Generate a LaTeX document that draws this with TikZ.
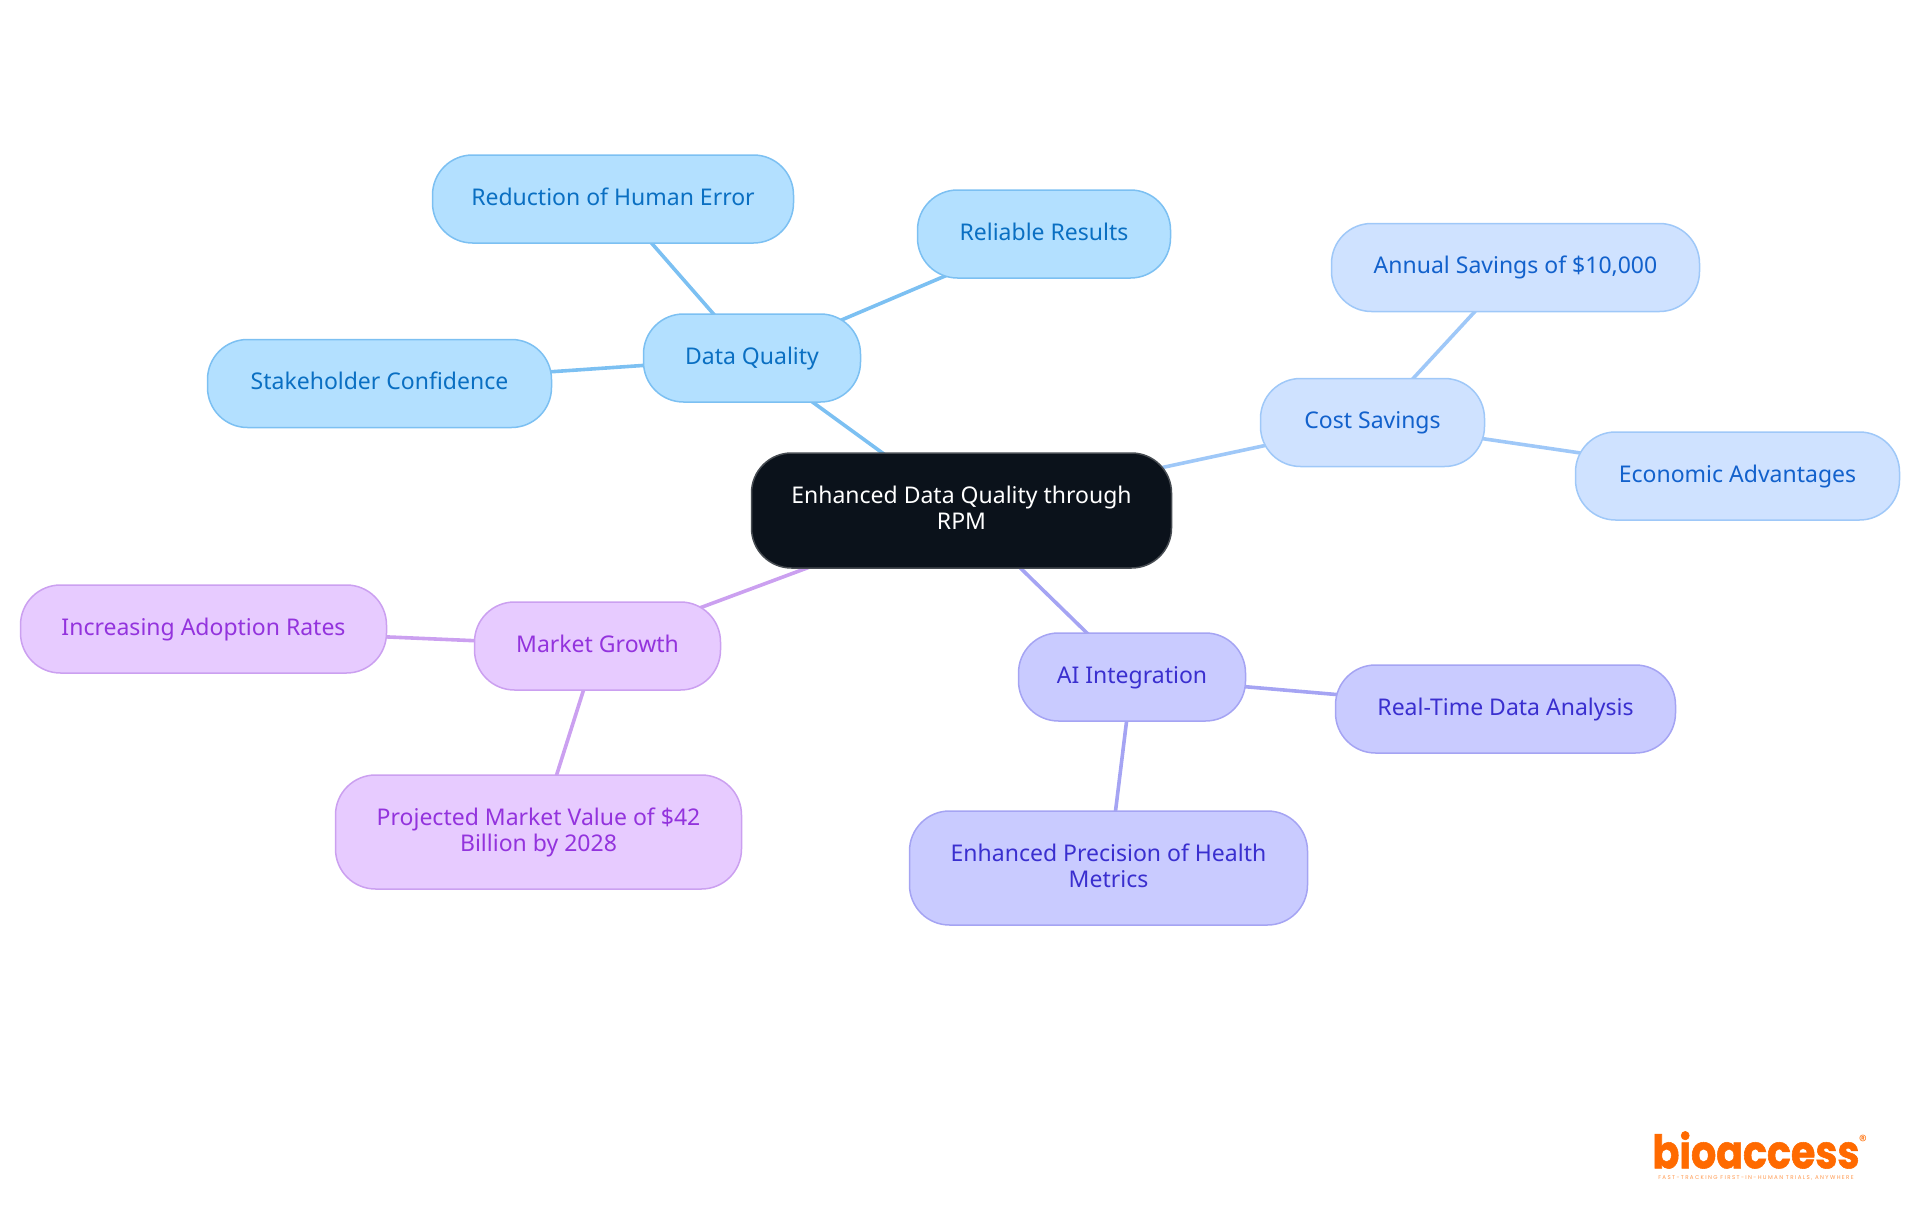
\documentclass[tikz,border=0pt]{standalone}
\usepackage{fontspec}
\setmainfont{Noto Sans}
\newfontfamily\logofont{Poppins}[BoldFeatures={FakeStretch=0.86,FakeBold=1.2}]
\usepackage{xcolor}
\usepackage{tikz}
\usetikzlibrary{positioning}
\usetikzlibrary{backgrounds}
\definecolor{rootfill}{HTML}{0B121B}
\definecolor{rootline}{HTML}{474C52}
\definecolor{qualityfill}{HTML}{B3E0FF}
\definecolor{qualityline}{HTML}{7CC0F2}
\definecolor{qualitytext}{HTML}{0A6FC2}
\definecolor{costfill}{HTML}{CFE2FF}
\definecolor{costline}{HTML}{9FC8F8}
\definecolor{costtext}{HTML}{1261CC}
\definecolor{aifill}{HTML}{C9CBFF}
\definecolor{ailine}{HTML}{A5A4F3}
\definecolor{aitext}{HTML}{3A2FCF}
\definecolor{marketfill}{HTML}{E7CBFF}
\definecolor{marketline}{HTML}{CBA0F0}
\definecolor{markettext}{HTML}{9333DD}
\definecolor{logoorange}{HTML}{FF6A00}
\tikzset{
	idea/.style={
		rectangle, rounded corners=40pt, line width=1.5pt, inner sep=0pt, align=center,
		font=\fontsize{23}{26}\selectfont, text height=18pt, text depth=6pt
	},
	box size/.style 2 args={minimum width=#1, minimum height=#2},
	two lines/.style={text height=44pt, text depth=6pt},
	root idea/.style={idea, fill=rootfill, draw=rootline, text=white},
	quality idea/.style={idea, fill=qualityfill, draw=qualityline, text=qualitytext},
	cost idea/.style={idea, fill=costfill, draw=costline, text=costtext},
	ai idea/.style={idea, fill=aifill, draw=ailine, text=aitext},
	market idea/.style={idea, fill=marketfill, draw=marketline, text=markettext},
	link/.style={line width=3.6pt}
}

\begin{document}
\begin{tikzpicture}
\useasboundingbox (0pt,0pt) rectangle (1920pt,-1215pt);

\node [root idea, two lines, box size={420pt}{115pt}] (root) at (961.5pt,-510.5pt) {Enhanced Data Quality through\\RPM};

\node [quality idea, box size={217pt}{88pt}, above left=49.5pt and -110.5pt of root] (quality) {Data Quality};
\node [quality idea, box size={361pt}{88pt}, above left=69.5pt and -151.5pt of quality] (error) {Reduction of Human Error};
\node [quality idea, box size={253pt}{88pt}, above right=34.5pt and 55.5pt of quality] (reliable) {Reliable Results};
\node [quality idea, box size={344pt}{88pt}, left=90.5pt of quality, yshift=-25.5pt] (confidence) {Stakeholder Confidence};

\node [cost idea, box size={224pt}{88pt}, right=87.5pt of root, yshift=88pt] (cost) {Cost Savings};
\node [cost idea, box size={368pt}{88pt}, above right=65.5pt and -154.5pt of cost] (annual) {Annual Savings of \$10,000};
\node [cost idea, box size={324pt}{88pt}, right=89.5pt of cost, yshift=-53.5pt] (economic) {Economic Advantages};

\node [ai idea, box size={227pt}{88pt}, below right=63.5pt and -154.5pt of root] (ai) {AI Integration};
\node [ai idea, box size={340pt}{88pt}, right=88.5pt of ai, yshift=-32pt] (realtime) {Real-Time Data Analysis};
\node [ai idea, two lines, box size={398pt}{114pt}, below left=88.5pt and -290.5pt of ai] (precision) {Enhanced Precision of Health\\Metrics};

\node [market idea, box size={246pt}{88pt}, below left=32.5pt and 29.5pt of root] (market) {Market Growth};
\node [market idea, box size={366pt}{88pt}, left=86.5pt of market, yshift=17pt] (adoption) {Increasing Adoption Rates};
\node [market idea, two lines, box size={406pt}{114pt}, below left=83.5pt and -268.5pt of market] (projected) {Projected Market Value of \$42\\Billion by 2028};

% links run centre to centre, under the boxes
\begin{pgfonlayer}{background}
\draw [link, qualityline] (root.center) to (quality.center);
\draw [link, qualityline] (quality.center) to (error.center);
\draw [link, qualityline] (quality.center) to (reliable.center);
\draw [link, qualityline] (quality.center) to (confidence.center);
\draw [link, costline] (root.center) to (cost.center);
\draw [link, costline] (cost.center) to (annual.center);
\draw [link, costline] (cost.center) to (economic.center);
\draw [link, ailine] (root.center) to (ai.center);
\draw [link, ailine] (ai.center) to (realtime.center);
\draw [link, ailine] (ai.center) to (precision.center);
\draw [link, marketline] (root.center) to (market.center);
\draw [link, marketline] (market.center) to (adoption.center);
\draw [link, marketline] (market.center) to (projected.center);
\end{pgfonlayer}

\node [text=logoorange, inner sep=0pt, font=\logofont\bfseries\fontsize{46}{46}\selectfont] (logo) at (1756pt,-1150pt) {bioaccess};
\node [text=logoorange, inner sep=0pt, font=\logofont\fontsize{16}{16}\selectfont, right=-1pt of logo, yshift=9pt] (registered) {®};
\node [text=logoorange!70, inner sep=0pt, font=\logofont\fontsize{5.5}{6}\selectfont\addfontfeature{LetterSpace=25}, below=7pt of logo] (tagline) {FAST-TRACKING FIRST-IN-HUMAN TRIALS, ANYWHERE};
\end{tikzpicture}
\end{document}
